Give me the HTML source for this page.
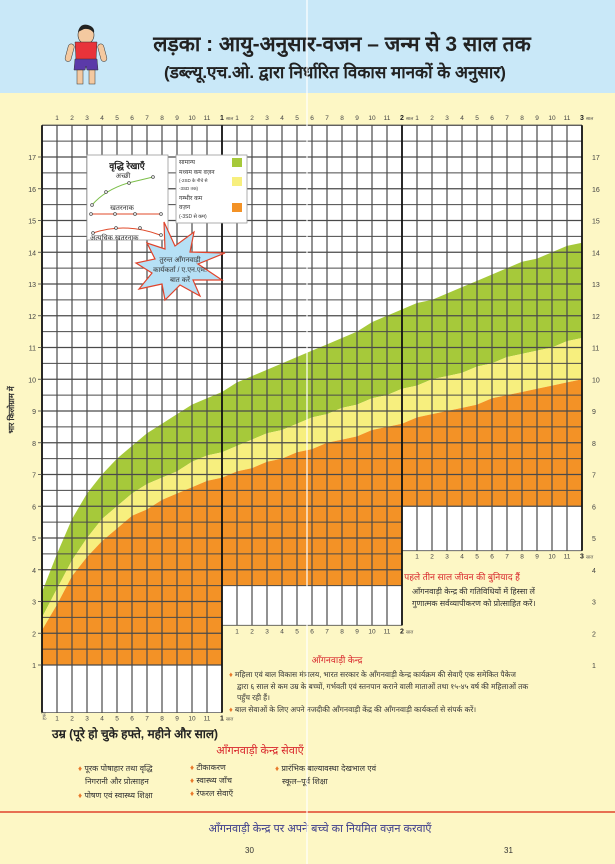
<!DOCTYPE html>
<html><head><meta charset="utf-8"><style>
html,body{margin:0;padding:0;background:#fdf7c5;}
svg{display:block;font-family:"Liberation Sans","DejaVu Sans",sans-serif;}
</style></head><body>
<svg id="chart" width="615" height="864" viewBox="0 0 615 864" xmlns="http://www.w3.org/2000/svg">
<rect x="0" y="0" width="615" height="864" fill="#fdf7c5"/>
<rect x="0" y="0" width="615" height="93" fill="#c9e8f8"/>
<g>
<ellipse cx="86" cy="35" rx="8" ry="9" fill="#f4c9a0" stroke="#333" stroke-width="0.6"/>
<path d="M78 32 Q80 23 88 25 Q95 27 94 33 Q90 28 84 29 Z" fill="#222"/>
<rect x="69" y="44" width="6" height="18" rx="3" fill="#f4c9a0" stroke="#333" stroke-width="0.5" transform="rotate(15 72 44)"/>
<rect x="97" y="44" width="6" height="18" rx="3" fill="#f4c9a0" stroke="#333" stroke-width="0.5" transform="rotate(-15 100 44)"/>
<path d="M75 42 L97 42 L96 60 L76 60 Z" fill="#e8333a" stroke="#333" stroke-width="0.5"/>
<path d="M75 59 L97 59 L98 70 L87 70 L86 66 L85 70 L74 70 Z" fill="#5b3aa8" stroke="#333" stroke-width="0.5"/>
<rect x="77" y="70" width="6" height="14" fill="#f4c9a0" stroke="#333" stroke-width="0.5"/>
<rect x="89" y="70" width="6" height="14" fill="#f4c9a0" stroke="#333" stroke-width="0.5"/>
</g>
<text x="342" y="51" text-anchor="middle" font-size="21" font-weight="bold" fill="#222">लड़का : आयु-अनुसार-वजन – जन्म से 3 साल तक</text>
<text x="335" y="78" text-anchor="middle" font-size="17" font-weight="bold" fill="#222">(डब्ल्यू.एच.ओ. द्वारा निर्धारित विकास मानकों के अनुसार)</text>
<g id="plot"></g>
<text transform="translate(14,410) rotate(-90)" text-anchor="middle" font-size="8" font-weight="bold" fill="#333">भार किलोग्राम में</text>
<text x="52" y="738" font-size="12" font-weight="bold" fill="#222">उम्र (पूरे हो चुके हफ्ते, महीने और साल)</text>
<text transform="translate(46,720) rotate(-90)" font-size="5" fill="#666">हफ्ते</text>

<g>
<rect x="87" y="155" width="81" height="85" fill="#fff" stroke="#999" stroke-width="0.8"/>
<text x="127" y="169" text-anchor="middle" font-size="9" font-weight="bold" fill="#222">वृद्धि रेखाएँ</text>
<text x="123" y="178" text-anchor="middle" font-size="7" fill="#333">अच्छी</text>
<path d="M92 205 Q105 190 128 183 L153 177" fill="none" stroke="#7cbf4a" stroke-width="1"/>
<g fill="#fff" stroke="#444" stroke-width="0.7"><circle cx="92" cy="205" r="1.4"/><circle cx="106" cy="192" r="1.4"/><circle cx="129" cy="183" r="1.4"/><circle cx="153" cy="177" r="1.4"/></g>
<text x="122" y="210" text-anchor="middle" font-size="7" fill="#333">खतरनाक</text>
<line x1="91" y1="214" x2="161" y2="214" stroke="#e04a2a" stroke-width="1"/>
<g fill="#fff" stroke="#444" stroke-width="0.7"><circle cx="91" cy="214" r="1.4"/><circle cx="115" cy="214" r="1.4"/><circle cx="135" cy="214" r="1.4"/><circle cx="161" cy="214" r="1.4"/></g>
<path d="M93 233 Q125 222 160 235" fill="none" stroke="#e04a2a" stroke-width="1"/>
<g fill="#fff" stroke="#444" stroke-width="0.7"><circle cx="93" cy="233" r="1.4"/><circle cx="116" cy="228" r="1.4"/><circle cx="140" cy="228" r="1.4"/><circle cx="161" cy="235" r="1.4"/></g>
<text x="90" y="240" font-size="7" fill="#333">अत्यधिक खतरनाक</text>
</g>
<g>
<rect x="176" y="155" width="71" height="68" fill="#fff" stroke="#999" stroke-width="0.8"/>
<g font-size="6" fill="#333">
<text x="179" y="164">सामान्य</text>
<text x="179" y="174">मध्यम कम वज़न</text>
<text x="179" y="182" font-size="4.5">(-2SD के नीचे से</text>
<text x="179" y="190" font-size="4.5">-3SD तक)</text>
<text x="179" y="200">गम्भीर कम</text>
<text x="179" y="209">वज़न</text>
<text x="179" y="218" font-size="5">(-3SD से कम)</text>
</g>
<rect x="232" y="158" width="10" height="9" fill="#a6c93a"/>
<rect x="232" y="177" width="10" height="9" fill="#f7ef7e"/>
<rect x="232" y="203" width="10" height="9" fill="#f39226"/>
</g>
<g>
<polygon points="164,222 175,246 194,232 190,252 225,253 198,264 222,280 193,280 200,296 180,285 165,300 162,284 139,289 152,273 136,263 155,259 147,243 165,249" fill="#b6e0f5" stroke="#e0442c" stroke-width="1.2"/>
<text x="180" y="262" text-anchor="middle" font-size="7" fill="#333">तुरन्त आँगनवाड़ी</text>
<text x="180" y="272" text-anchor="middle" font-size="7" fill="#333">कार्यकर्ता / ए.एन.एम.</text>
<text x="180" y="282" text-anchor="middle" font-size="7" fill="#333">बात करें</text>
</g>

<g>
<text x="462" y="580" text-anchor="middle" font-size="9" fill="#d8262b">पहले तीन साल जीवन की बुनियाद हैं</text>
<text x="412" y="594" font-size="8" fill="#333">आँगनवाड़ी केन्द्र की गतिविधियों में हिस्सा लें</text>
<text x="412" y="606" font-size="8" fill="#333">गुणात्मक सर्वव्यापीकरण को प्रोत्साहित करें।</text>
</g>
<g>
<text x="337" y="663" text-anchor="middle" font-size="9" fill="#d8262b">आँगनवाड़ी केन्द्र</text>
<g font-size="7.5" fill="#333">
<text x="229" y="677"><tspan fill="#e8782a">♦</tspan> महिला एवं बाल विकास मंत्रालय, भारत सरकार के आँगनवाड़ी केन्द्र कार्यक्रम की सेवाएँ एक समेकित पैकेज</text>
<text x="237" y="689">द्वारा ६ साल से कम उम्र के बच्चों, गर्भवती एवं स्तनपान कराने वाली माताओं तथा १५-४५ वर्ष की महिलाओं तक</text>
<text x="237" y="700">पहुँच रही हैं।</text>
<text x="229" y="712"><tspan fill="#e8782a">♦</tspan> बाल सेवाओं के लिए अपने नजदीकी आँगनवाड़ी केंद्र की आँगनवाड़ी कार्यकर्ता से संपर्क करें।</text>
</g>
</g>
<g>
<text x="260" y="754" text-anchor="middle" font-size="11" fill="#d8262b">आँगनवाड़ी केन्द्र सेवाएँ</text>
<g font-size="8" fill="#333">
<text x="78" y="771"><tspan fill="#e8782a">♦</tspan> पूरक पोषाहार तथा वृद्धि</text>
<text x="85" y="784">निगरानी और प्रोत्साहन</text>
<text x="78" y="798"><tspan fill="#e8782a">♦</tspan> पोषण एवं स्वास्थ्य शिक्षा</text>
<text x="190" y="770"><tspan fill="#e8782a">♦</tspan> टीकाकरण</text>
<text x="190" y="783"><tspan fill="#e8782a">♦</tspan> स्वास्थ्य जाँच</text>
<text x="190" y="796"><tspan fill="#e8782a">♦</tspan> रेफरल सेवाएँ</text>
<text x="275" y="771"><tspan fill="#e8782a">♦</tspan> प्रारंभिक बाल्यावस्था देखभाल एवं</text>
<text x="282" y="784">स्कूल–पूर्व शिक्षा</text>
</g>
</g>
<line x1="0" y1="812" x2="615" y2="812" stroke="#e0442c" stroke-width="1.5"/>
<text x="320" y="832" text-anchor="middle" font-size="11" fill="#3b3b8a">आँगनवाड़ी केन्द्र पर अपने  बच्चे का नियमित वज़न करवाएँ</text>
<text x="245" y="853" font-size="8" fill="#333">30</text>
<text x="504" y="853" font-size="8" fill="#333">31</text>
<line x1="307" y1="0" x2="307" y2="864" stroke="#ffffff" stroke-width="1.2"/>
</svg>
<script>
const ageMonths = [0,1,2,3,4,5,6,7,8,9,10,11,12,13,14,15,16,17,18,19,20,21,22,23,24,25,26,27,28,29,30,31,32,33,34,35,36];
const medianKg = [3.3,4.5,5.6,6.4,7.0,7.5,7.9,8.3,8.6,8.9,9.2,9.4,9.6,9.9,10.1,10.3,10.5,10.7,10.9,11.1,11.3,11.5,11.8,12.0,12.2,12.4,12.5,12.7,12.9,13.1,13.3,13.5,13.7,13.8,14.0,14.2,14.3];
const minus2sdKg = [2.5,3.4,4.3,5.0,5.6,6.0,6.4,6.7,6.9,7.1,7.4,7.6,7.7,7.9,8.1,8.3,8.4,8.6,8.8,8.9,9.1,9.2,9.4,9.5,9.7,9.8,10.0,10.1,10.2,10.4,10.5,10.7,10.8,10.9,11.0,11.2,11.3];
const minus3sdKg = [2.1,2.9,3.8,4.4,4.9,5.3,5.7,5.9,6.2,6.4,6.6,6.8,6.9,7.1,7.2,7.4,7.5,7.7,7.8,8.0,8.1,8.2,8.4,8.5,8.6,8.8,8.9,9.0,9.1,9.2,9.4,9.5,9.6,9.7,9.8,9.9,10.0];
const yearFloorKg = [1,3.5,6];
const yearWhiteBottomKg = [-0.5,2.25,4.6];
const yTicks = [1,2,3,4,5,6,7,8,9,10,11,12,13,14,15,16,17];
const monthTickLabels = ["1","2","3","4","5","6","7","8","9","10","11"];
const yearLabels = ["1","2","3"];
const topKg = 18;

const NS = "http://www.w3.org/2000/svg";
const plot = document.getElementById('plot');
const x = m => 42 + m * 15;
const y = v => 665 - (v - 1) * 31.75;
function mk(tag, attrs, parent) {
  const e = document.createElementNS(NS, tag);
  for (const k in attrs) e.setAttribute(k, attrs[k]);
  (parent || plot).appendChild(e);
  return e;
}
for (let yr = 0; yr < 3; yr++) {
  const r = mk('rect', {x: x(yr*12), y: y(topKg), width: 180, height: y(yearWhiteBottomKg[yr]) - y(topKg), fill: '#fff'});
  
  
}
function band(upper, lower, color, name) {
  let d = '';
  ageMonths.forEach((m, i) => { d += (i ? 'L' : 'M') + x(m) + ' ' + y(upper[i]); });
  if (lower) {
    for (let i = ageMonths.length - 1; i >= 0; i--) d += 'L' + x(ageMonths[i]) + ' ' + y(lower[i]);
  } else {
    for (let yr = 2; yr >= 0; yr--) {
      d += 'L' + x((yr+1)*12) + ' ' + y(yearFloorKg[yr]) + 'L' + x(yr*12) + ' ' + y(yearFloorKg[yr]);
    }
  }
  const p = mk('path', {d: d + 'Z', fill: color});
  
  
}
band(medianKg, minus2sdKg, '#a6c93a', 'normal-weight-band');
band(minus2sdKg, minus3sdKg, '#f7ef7e', 'moderate-underweight-band');
band(minus3sdKg, null, '#f39226', 'severe-underweight-band');
for (let yr = 0; yr < 3; yr++) {
  for (let v = yearFloorKg[yr]; v <= topKg + 0.001; v += 0.5) {
    const l = mk('line', {x1: x(yr*12), x2: x((yr+1)*12), y1: y(v), y2: y(v), stroke: '#4a4a4a', 'stroke-width': Number.isInteger(v) ? 1.3 : 1});
    
    
  }
  const b = mk('line', {x1: x(yr*12), x2: x((yr+1)*12), y1: y(yearWhiteBottomKg[yr]), y2: y(yearWhiteBottomKg[yr]), stroke: '#555', 'stroke-width': 0.8});
  
  
}
for (let m = 0; m <= 36; m++) {
  const yr = Math.min(2, Math.floor(m / 12));
  const prev = m > 0 && m % 12 === 0 ? m/12 - 1 : yr;
  const bottom = Math.max(y(yearWhiteBottomKg[yr]), y(yearWhiteBottomKg[prev]));
  const l = mk('line', {x1: x(m), x2: x(m), y1: y(topKg), y2: bottom, stroke: m % 12 === 0 ? '#111' : '#4a4a4a', 'stroke-width': m % 12 === 0 ? 1.8 : 1.2});
  
  
}
yTicks.forEach(v => {
  const t1 = mk('text', {x: 36, y: y(v) + 3, 'text-anchor': 'end', 'font-size': 7, fill: '#444'});
  t1.textContent = v;
  
  
  const t2 = mk('text', {x: 592, y: y(v) + 3, 'font-size': 7, fill: '#444'});
  t2.textContent = v;
  
  
  const tk = mk('line', {x1: 38, x2: 42, y1: y(v), y2: y(v), stroke: '#444', 'stroke-width': 0.8});
  
  
});
function monthRow(startYr, endYr, ty, name) {
  for (let yr = startYr; yr < endYr; yr++) {
    monthTickLabels.forEach((lab, i) => {
      const t = mk('text', {x: x(yr*12 + i + 1), y: ty, 'text-anchor': 'middle', 'font-size': 6.5, fill: '#444'});
      t.textContent = lab;
      
      
    });
    const yl = mk('text', {x: x((yr+1)*12), y: ty, 'text-anchor': 'middle', 'font-size': 7, 'font-weight': 'bold', fill: '#222'});
    yl.textContent = yearLabels[yr];
    
    
    const ys = mk('text', {x: x((yr+1)*12) + 4, y: ty, 'font-size': 4.5, fill: '#444'});
    ys.textContent = 'साल';
    
    
  }
}
monthRow(0, 3, 120, 'x-tick-label-top');
for (let yr = 0; yr < 3; yr++) {
  const ty = y(yearWhiteBottomKg[yr]) + 8;
  monthRow(yr, yr + 1, ty, 'x-tick-label-bottom');
}
</script>
</body></html>
